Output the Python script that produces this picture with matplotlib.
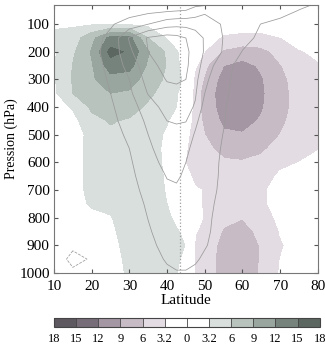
import numpy as np
import matplotlib
matplotlib.use("Agg")
import matplotlib.pyplot as plt

plt.rcParams['font.family'] = ['Liberation Serif', 'DejaVu Serif']

# grid
lat = [10, 15, 20, 25, 30, 35, 40, 42.5, 45, 47.5, 50, 55, 60, 65, 70, 75, 80]
pres = [30, 50, 100, 150, 200, 250, 300, 350, 400, 450, 500,
        550, 600, 650, 700, 750, 800, 850, 900, 950, 1000]

# shaded field (green > 0, purple < 0)
shade = np.array([
    [0, 0, 0, 0, 0, 0, 0, 0, 0, 0, 0, 0, 0, 0, 0, 0, 0],
    [0.2, 0.3, 0.5, 0.5, 0.5, 0.3, 0, 0, 0, 0, 0, 0, -0.5, -0.3, 0, 0, 0],
    [3.0, 2.8, 2.9, 3.0, 2.9, 2.5, 1.5, 0.5, 0, 0, -0.5, -2, -2.0, -2.0, -1.5, -1.2, -0.8],
    [3.5, 4.5, 8, 13, 13, 6, 3.0, 1.5, 0.5, -0.5, -2, -3.6, -4.0, -4.0, -3.3, -2.4, -1.8],
    [2.9, 5.5, 9.3, 16, 14.5, 9.3, 5.5, 3.5, 1.5, -1.5, -3.3, -6.5, -7.5, -7, -5, -3.4, -2.8],
    [2.9, 6.1, 8.7, 13.5, 13, 8.5, 5.8, 4.0, 1.5, -2.8, -5.5, -9, -10, -8.6, -6.2, -4.2, -3.4],
    [2.9, 6.2, 8.5, 11, 10.5, 7.5, 5.5, 4.0, 2.5, -4.5, -6.3, -10.3, -11, -9.3, -6.8, -4.8, -4],
    [2.7, 6.0, 7.5, 9, 8.5, 6.5, 5, 3.5, 1.5, -5, -7, -10.8, -11.3, -9.5, -7, -5, -4.2],
    [1.8, 3.5, 6.5, 7.5, 7, 5.6, 4.2, 3.2, 0.5, -5, -7, -10.5, -11, -9.3, -7, -5, -4.2],
    [1.0, 2.3, 5.2, 6.2, 5.7, 4.8, 3.4, 2, -1, -4.8, -6.5, -9.7, -10, -8.7, -6.6, -4.8, -4],
    [0.8, 2.0, 4.0, 5.5, 5.2, 4.5, 2.8, 1, -2.5, -4.6, -6, -8.5, -8.8, -7.8, -6, -4.4, -3.6],
    [0.5, 2.2, 4.0, 5, 5, 4.4, 2.6, 0.5, -3.0, -4.5, -5.2, -7, -7.2, -6.5, -5, -3.8, -3.3],
    [0.3, 2.2, 4.0, 4.8, 5, 4.4, 2.7, 0.5, -3.3, -4.5, -4.5, -5.6, -5.8, -5.3, -3.8, -3.2, -2.7],
    [0.2, 2.2, 4.0, 4.6, 5, 4.4, 2.9, 0.8, -2.5, -3.8, -3.8, -4.6, -4.7, -4.4, -2.8, -2.5, -2],
    [0.1, 2.2, 3.9, 4.5, 5, 4.5, 3.0, 1, -1, -3.0, -3.3, -4.2, -4.3, -3.6, -2.3, -2, -1.6],
    [0, 2.3, 3.5, 4.0, 5, 4.5, 3.2, 1.5, 0, -2.6, -3.5, -4.5, -4.8, -3.6, -2.4, -1.8, -1.5],
    [0, 1.8, 2.6, 3.0, 5, 4.8, 3.8, 2.5, 1.5, -2.8, -3.3, -5.3, -5.9, -4.3, -2.7, -2, -1.6],
    [0, 1.2, 2.0, 2.5, 4.8, 5, 4.3, 3.5, 2.5, -3.1, -3.6, -6.3, -7, -5.3, -3.1, -2.2, -1.8],
    [0, 0.8, 1.5, 2, 4.5, 5, 4.5, 4.0, 3.1, -3.6, -4.2, -7.0, -7.6, -5.8, -3.4, -2.5, -2],
    [0, 0.5, 1, 1.5, 4.2, 4.8, 4.3, 3.6, 2.5, -3.6, -4.5, -7.2, -7.9, -5.8, -3.2, -2.3, -1.8],
    [0, 0.3, 0.8, 1, 4, 4.5, 4.0, 3.3, 1.5, -3.5, -4.5, -7.2, -7.9, -5.6, -3.0, -2.0, -1.5],
])

# line field (wind)
wind = np.array([
    [0, 0.5, 1, 1.5, 2, 2.5, 3, 3.3, 3.6, 4, 4.4, 7.5, 8, 7.5, 7, 6, 4.5],
    [0.5, 1, 1.5, 2, 2.8, 3.5, 4.2, 4.6, 5, 7, 9, 9.7, 9.5, 8.5, 7, 4.9, 3.5],
    [1, 2, 3, 4.5, 7, 10, 13, 13.5, 13.5, 13, 12.5, 9.5, 7, 4.9, 3.5, 2.5, 2],
    [1, 2.5, 3.5, 6, 15.5, 20.5, 22, 21.5, 20, 17.5, 14.5, 9.8, 6.5, 4, 3, 2.2, 1.8],
    [1, 2.5, 3.8, 6.5, 14, 20, 23, 22.5, 21, 18, 14.5, 9.5, 4.8, 3.5, 2.5, 2, 1.5],
    [0.8, 2, 3.5, 6, 12, 18, 22, 22, 20.8, 17.5, 13, 6.5, 3.5, 2.5, 2, 1.5, 1.2],
    [0.5, 1.5, 3, 5.5, 10, 17, 20.3, 20.5, 20, 16.5, 11, 6.2, 3, 2, 1.5, 1.2, 1],
    [0.3, 1, 2.5, 5, 9, 15.3, 18.5, 19, 18.3, 15.5, 10, 5.8, 2.8, 1.8, 1.3, 1, 0.8],
    [0.2, 0.8, 2, 4.3, 7.8, 12.5, 17, 17.5, 16.5, 14.5, 8, 5.4, 2.5, 1.6, 1.2, 0.9, 0.7],
    [0.2, 0.6, 1.6, 3.8, 6.8, 11, 15, 15.5, 15.2, 11, 7.5, 5.2, 2.3, 1.4, 1, 0.8, 0.6],
    [0.2, 0.5, 1.3, 3.3, 5.8, 10, 13, 13.3, 12.5, 9.5, 7, 4.9, 2.1, 1.3, 0.9, 0.7, 0.5],
    [0.2, 0.4, 1.1, 2.8, 5, 9.3, 12, 12.3, 11, 8.5, 6.5, 4.7, 2, 1.2, 0.8, 0.6, 0.4],
    [0.1, 0.3, 0.9, 2.4, 4.3, 8.5, 11.2, 11.3, 10, 7.8, 6.2, 4.6, 2, 1.1, 0.7, 0.5, 0.4],
    [0, 0.2, 0.7, 2, 3.8, 7.4, 10.2, 10.4, 9.5, 7.4, 6, 4.6, 2, 1, 0.6, 0.4, 0.3],
    [0, 0.1, 0.5, 1.7, 3.4, 6.4, 9.2, 9.6, 8.9, 7, 5.9, 4.5, 2, 1, 0.5, 0.3, 0.2],
    [0, 0, 0.3, 1.4, 3, 5.6, 8.3, 8.8, 8.2, 6.7, 5.7, 4.3, 2, 0.9, 0.5, 0.3, 0.2],
    [0, -0.3, 0, 1.1, 2.6, 5.1, 7.5, 8, 7.5, 6.3, 5.5, 4.2, 1.9, 0.9, 0.4, 0.3, 0.2],
    [-0.5, -1.5, -1, 0.8, 2.3, 4.6, 6.8, 7.2, 6.8, 6, 5.4, 4.1, 1.8, 0.9, 0.4, 0.2, 0.1],
    [-1, -4, -4.2, 0.5, 2, 4.2, 6, 6.4, 6.2, 5.6, 5.2, 3.8, 1.7, 0.8, 0.4, 0.2, 0.1],
    [-2, -6.5, -4.5, 0.3, 1.8, 3.8, 5.3, 5.8, 5.8, 5.3, 4.6, 3.5, 1.6, 0.7, 0.3, 0.2, 0.1],
    [-1.5, -4, -2.5, 0.2, 1.5, 3.3, 4.5, 4.8, 4.8, 4.5, 4, 3.2, 1.5, 0.7, 0.3, 0.1, 0],
])

levels = [-18, -15, -12, -9, -6, -3.2, 0, 3.2, 6, 9, 12, 15, 18]
colors = ['#5e5860', '#776d78', '#a596a3', '#c7bbc5', '#e3dce2', '#ffffff',
          '#ffffff', '#d8dfdc', '#b8c3be', '#99a6a0', '#76837d', '#5c6762']
wind_levels = [-5, 5, 10, 15, 20]
jet_lat = 43.4

fig = plt.figure(figsize=(3.25, 3.45), dpi=100)
ax = fig.add_axes([0.166, 0.209, 0.812, 0.777])

cf = ax.contourf(lat, pres, shade, levels=levels, colors=colors)
ax.contour(lat, pres, wind, levels=wind_levels, colors='#9a9a9a', linewidths=0.55)
ax.axvline(jet_lat, color='#a0a0a0', linestyle=':', linewidth=0.9)

ax.set_xlim(10, 80)
ax.set_ylim(1000, 30)
ax.set_xticks(range(10, 81, 10))
ax.set_yticks(range(100, 1001, 100))
ax.tick_params(direction='in', top=True, right=True, labelsize=11, length=3,
               color='#555555')
ax.tick_params(axis='x', pad=5)
ax.tick_params(axis='y', pad=3)
for s in ax.spines.values():
    s.set_color('#777777')
ax.set_xlabel('Latitude', fontsize=11, labelpad=1)
ax.set_ylabel('Pression (hPa)', fontsize=10, labelpad=1)

cax = fig.add_axes([0.166, 0.052, 0.818, 0.027])
cb = fig.colorbar(cf, cax=cax, orientation='horizontal', ticks=levels, drawedges=True)
cb.ax.set_xticklabels([('%g' % abs(v)) for v in levels])
cb.ax.tick_params(length=0, labelsize=9, pad=4)
cb.outline.set_color('#444444')
cb.dividers.set_color('#444444')
cb.dividers.set_linewidth(0.6)

fig.savefig('out.png', dpi=100)
